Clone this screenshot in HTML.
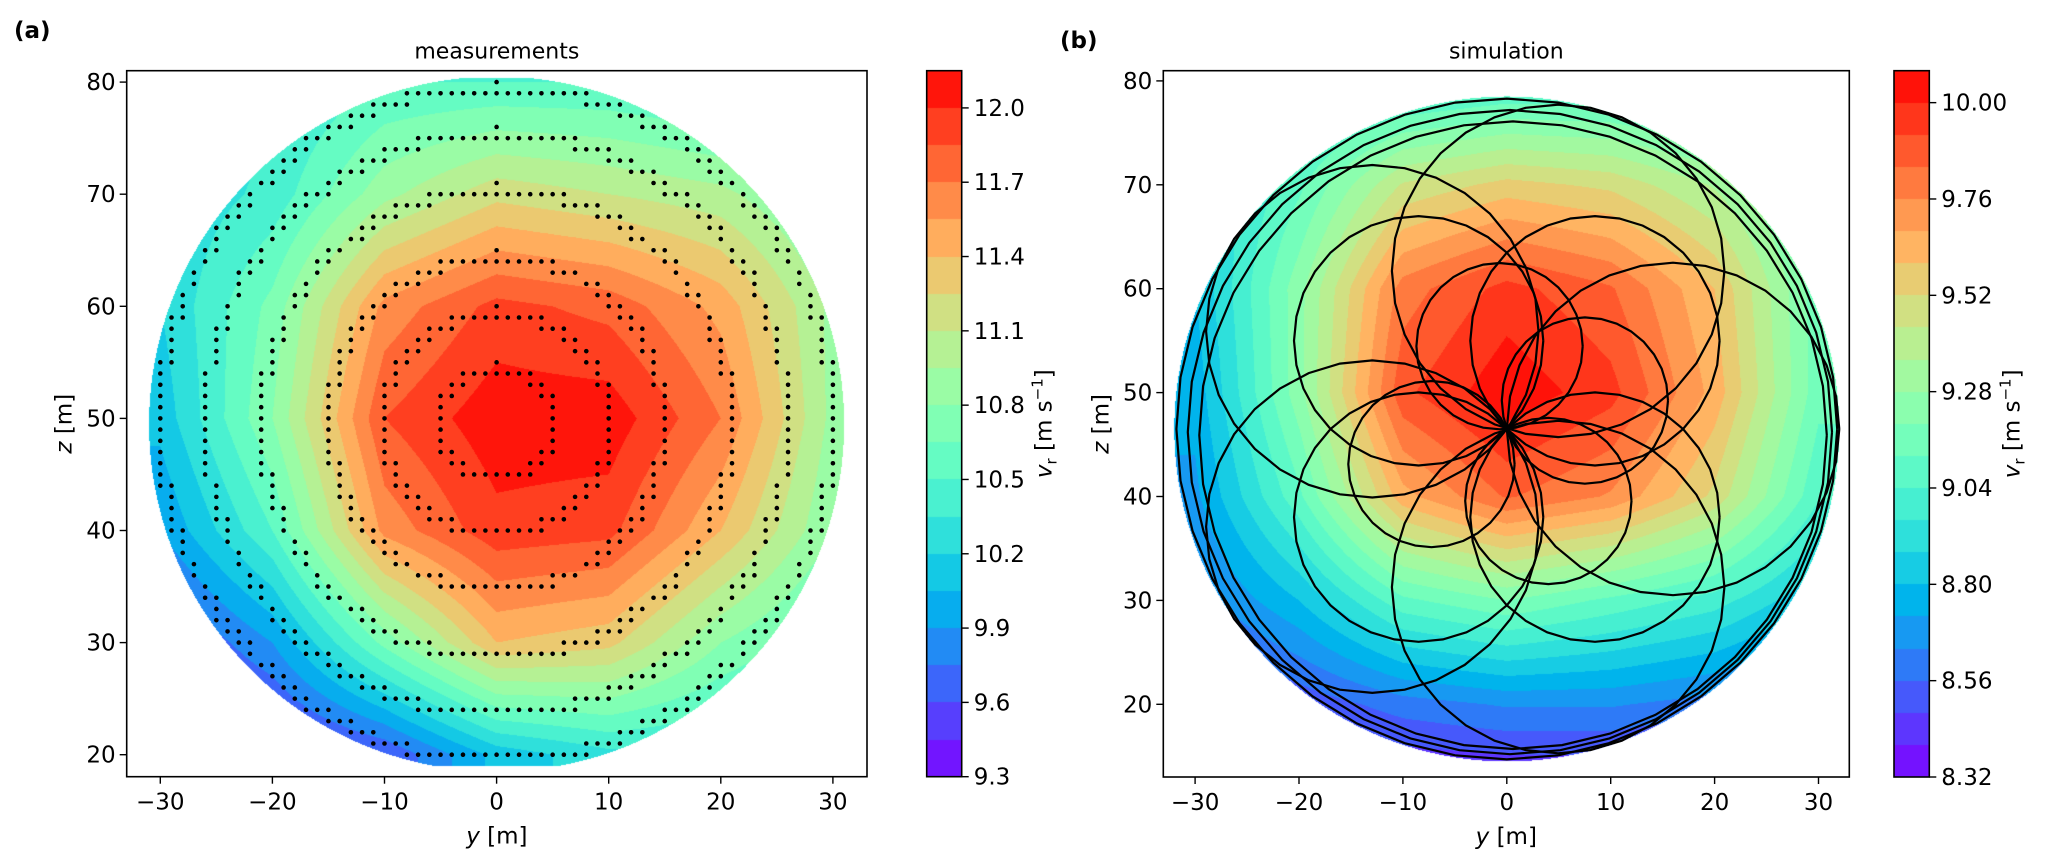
<!DOCTYPE html>
<html><head><meta charset="utf-8">
<style>
html,body{margin:0;padding:0;background:#fff;}
#wrap{position:relative;width:2067px;height:865px;overflow:hidden;}
canvas,svg{position:absolute;left:0;top:0;}
text{font-family:"DejaVu Sans","Liberation Sans",sans-serif;fill:#000;}
</style></head>
<body>
<div id="wrap">
<canvas id="cv" width="2067" height="865"></canvas>
<svg id="sv" width="2067" height="865" xmlns="http://www.w3.org/2000/svg"></svg>
</div>
<script>
// ---------- data ----------
const gridY = [-30,-20,-10,0,10,20,30];
const measZ = [80,70,60,50,40,30,20];
const measValues = [
 [10.2,10.3,10.5,10.5,10.5,10.4,10.3],
 [10.2,10.4,10.9,11.2,11.1,11.0,10.7],
 [10.2,10.7,11.6,11.9,11.8,11.5,10.9],
 [10.1,10.8,11.85,12.1,12.1,11.7,10.9],
 [9.9,10.5,11.6,11.95,11.9,11.4,10.8],
 [9.5,9.9,10.7,11.4,11.3,10.8,10.5],
 [9.3,9.4,9.6,10.1,10.3,10.3,10.3]
];
const simZ = [80,70,60,50,40,30,20,10];
const simValues = [
 [8.9,8.9,8.95,9.0,9.0,8.95,8.9],
 [8.85,9.1,9.45,9.55,9.5,9.35,9.1],
 [8.8,9.25,9.8,9.95,9.85,9.6,9.15],
 [8.75,9.25,9.9,10.06,9.95,9.65,9.15],
 [8.7,9.1,9.65,9.85,9.75,9.5,9.05],
 [8.6,8.8,9.1,9.2,9.1,9.0,8.8],
 [8.4,8.5,8.6,8.65,8.65,8.6,8.5],
 [8.2,8.25,8.3,8.3,8.3,8.25,8.2]
];
const measTicksX = [-30,-20,-10,0,10,20,30];
const measTicksZ = [20,30,40,50,60,70,80];
const measCbarTicks = [9.3,9.6,9.9,10.2,10.5,10.8,11.1,11.4,11.7,12.0];
const simCbarTicks = [8.32,8.56,8.80,9.04,9.28,9.52,9.76,10.00];
const measRingRadii = [5,10,15,21,26,30];
const loopRadii = [8,8,8,8,12,12,12,12,16,16,16,16,16];
const loopAngles = [95,20,205,300,45,135,225,315,0,72,144,216,288];
const outerRadii = [31.8,31.0,30.2];

// ---------- geometry ----------
const L = {x0:126.7,x1:867,y0:70.7,y1:776.7, X:y=>496.6+11.21*y, Z:z=>754.7-11.21*(z-20),
  iy:px=>(px-496.6)/11.21, iz:py=>20-(py-754.7)/11.21,
  cx:0,cz:49.5,r:31,zmin:19,zmax:80.4, lo:9.3, step:0.15, n:19,
  cb:{x0:926.7,x1:961.7}, V:v=>776.7-(v-9.3)*247.7};
const R = {x0:1163.3,x1:1849.3,y0:70.7,y1:777, X:y=>1506.8+10.39*y, Z:z=>704.3-10.39*(z-20),
  iy:px=>(px-1506.8)/10.39, iz:py=>20-(py-704.3)/10.39,
  cx:0,cz:46.5,r:32,zmin:-99,zmax:99, lo:8.32, step:0.08, n:22,
  cb:{x0:1894,x1:1929.3}, V:v=>777-(v-8.32)*401.4};

function rainbow(x){
  const r=Math.min(1,Math.max(0,Math.abs(2*x-0.5)));
  const g=Math.sin(Math.PI*x), b=Math.cos(Math.PI*x/2);
  return [Math.round(r*255),Math.round(g*255),Math.round(Math.max(0,b)*255)];
}
function interp(zs,vals,y,z){
  let fi=(y-gridY[0])/(gridY[1]-gridY[0]);
  let fj=(zs[0]-z)/(zs[0]-zs[1]);
  fi=Math.max(0,Math.min(gridY.length-1.0001,fi));
  fj=Math.max(0,Math.min(zs.length-1.0001,fj));
  const i=Math.floor(fi),j=Math.floor(fj),a=fi-i,b=fj-j;
  return vals[j][i]*(1-a)*(1-b)+vals[j][i+1]*a*(1-b)+vals[j+1][i]*(1-a)*b+vals[j+1][i+1]*a*b;
}
function bandColor(P,k){return rainbow((k+0.5)/P.n);}

// ---------- canvas fills ----------
const cv=document.getElementById('cv');const ctx=cv.getContext('2d');
const img=ctx.createImageData(2067,865);const D=img.data;
function fillField(P,zs,vals){
  for(let py=Math.floor(P.y0);py<P.y1;py++){
    for(let px=Math.floor(P.x0);px<P.x1;px++){
      const y=P.iy(px+0.5), z=P.iz(py+0.5);
      const dy=y-P.cx, dz=z-P.cz;
      if(dy*dy+dz*dz>P.r*P.r||z<P.zmin||z>P.zmax) continue;
      const v=interp(zs,vals,y,z);
      let k=Math.floor((v-P.lo)/P.step); k=Math.max(0,Math.min(P.n-1,k));
      const c=bandColor(P,k); const o=(py*2067+px)*4;
      D[o]=c[0];D[o+1]=c[1];D[o+2]=c[2];D[o+3]=255;
    }
  }
}
fillField(L,measZ,measValues);
fillField(R,simZ,simValues);
function fillCbar(P){
  for(let k=0;k<P.n;k++){
    const top=Math.max(P.y0,P.V(P.lo+(k+1)*P.step)), bot=Math.min(P.y1,P.V(P.lo+k*P.step));
    const c=bandColor(P,k);
    for(let py=Math.round(top);py<Math.round(bot);py++)for(let px=Math.round(P.cb.x0);px<Math.round(P.cb.x1);px++){
      const o=(py*2067+px)*4;D[o]=c[0];D[o+1]=c[1];D[o+2]=c[2];D[o+3]=255;}
  }
}
fillCbar(L);fillCbar(R);
ctx.putImageData(img,0,0);

// ---------- svg ----------
const NS='http://www.w3.org/2000/svg';const sv=document.getElementById('sv');
function el(tag,attrs,parent){const e=document.createElementNS(NS,tag);for(const k in attrs)e.setAttribute(k,attrs[k]);(parent||sv).appendChild(e);return e;}
function txt(s,x,y,anchor,size,parent,extra){const t=el('text',Object.assign({x:x,y:y,'text-anchor':anchor,'font-size':size},extra||{}),parent);t.textContent=s;return t;}

// measurement dots
const gDots=el('g',{});


const seen=new Set();
measRingRadii.forEach(r=>{
  for(let a=0;a<360;a+=0.5){
    const y=Math.round(L.cx+r*Math.cos(a*Math.PI/180)), z=Math.round(L.cz+r*Math.sin(a*Math.PI/180));
    const key=y+','+z; if(seen.has(key))continue; seen.add(key);
    const d=el('circle',{cx:L.X(y),cy:L.Z(z),r:2.3,fill:'#000'},gDots);
    
    
  }
});

// simulation trajectories
const gTr=el('g',{fill:'none',stroke:'#000','stroke-width':2.2});


function poly(cy,cz,r,n){let pts=[];for(let i=0;i<=n;i++){const a=i/n*2*Math.PI;pts.push(R.X(cy+r*Math.cos(a)).toFixed(1)+','+R.Z(cz+r*Math.sin(a)).toFixed(1));}return pts.join(' ');}
loopRadii.forEach((r,i)=>{
  const phi=loopAngles[i]*Math.PI/180;
  const p=el('polyline',{points:poly(R.cx+r*Math.cos(phi),R.cz+r*Math.sin(phi),r,32)},gTr);
  
  
});
outerRadii.forEach((r,i)=>{
  const p=el('polyline',{points:poly(R.cx+0.3*i,R.cz-0.3*i,r,40)},gTr);
  
  
});

// axes
function axes(P,ticksX,ticksZ,name,title){
  const g=el('g',{});
  
  
  el('rect',{x:P.x0,y:P.y0,width:P.x1-P.x0,height:P.y1-P.y0,fill:'none',stroke:'#000','stroke-width':1.6},g);
  ticksX.forEach(t=>{const x=P.X(t);el('line',{x1:x,x2:x,y1:P.y1,y2:P.y1+7,stroke:'#000','stroke-width':1.4},g);
    const tl=txt(String(t).replace('-','\u2212'),x,P.y1+33,'middle',23,g);
    
    });
  ticksZ.forEach(t=>{const y=P.Z(t);el('line',{x1:P.x0-7,x2:P.x0,y1:y,y2:y,stroke:'#000','stroke-width':1.4},g);
    const tl=txt(String(t),P.x0-11,y+8,'end',23,g);
    
    });
  const cx=(P.x0+P.x1)/2;
  const tt=txt(title,cx,P.y0-12,'middle',22,g);
  
  
  const xl=el('text',{x:cx,y:P.y1+67,'text-anchor':'middle','font-size':23},g);
  xl.innerHTML='<tspan font-style="italic">y</tspan> [m]';
  
  
  const yl=el('text',{x:0,y:0,'text-anchor':'middle','font-size':23,transform:`translate(${P.x0-55},${(P.y0+P.y1)/2}) rotate(-90)`},g);
  yl.innerHTML='<tspan font-style="italic">z</tspan> [m]';
  
  
}
axes(L,measTicksX,measTicksZ,'measurements-axes','measurements');
axes(R,measTicksX,measTicksZ,'simulation-axes','simulation');

function cbar(P,ticks,dec,name){
  const g=el('g',{});
  
  
  el('rect',{x:P.cb.x0,y:P.y0,width:P.cb.x1-P.cb.x0,height:P.y1-P.y0,fill:'none',stroke:'#000','stroke-width':1.6},g);
  ticks.forEach(t=>{const y=P.V(t);el('line',{x1:P.cb.x1,x2:P.cb.x1+7,y1:y,y2:y,stroke:'#000','stroke-width':1.4},g);
    const tl=txt(t.toFixed(dec),P.cb.x1+12,y+8,'start',23,g);
    
    });
  const lab=el('text',{x:0,y:0,'text-anchor':'middle','font-size':23,transform:`translate(${P.cb.x1+90},${(P.y0+P.y1)/2}) rotate(-90)`},g);
  lab.innerHTML='<tspan font-style="italic">v</tspan><tspan font-size="15" dy="5">r</tspan><tspan dy="-5"> [m s</tspan><tspan font-size="15" dy="-9">\u22121</tspan><tspan dy="9">]</tspan>';
  
  
}
cbar(L,measCbarTicks,1,'measurements-colorbar');
cbar(R,simCbarTicks,2,'simulation-colorbar');

const pa=txt('(a)',14,38,'start',23,sv,{'font-weight':'bold'});


const pb=txt('(b)',1060,48,'start',23,sv,{'font-weight':'bold'});


</script>
</body></html>
